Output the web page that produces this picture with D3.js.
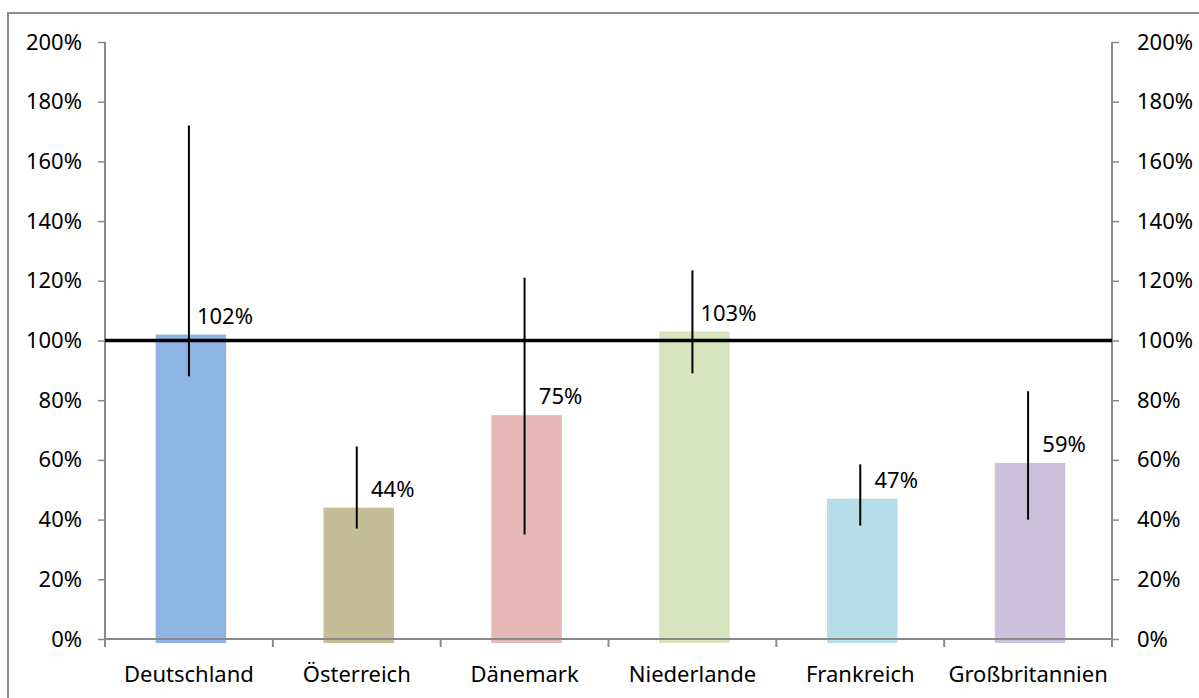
<!DOCTYPE html>
<html>
<head>
<meta charset="utf-8">
<script src="https://cdn.jsdelivr.net/npm/d3@7"></script>
<style>
  body { margin: 0; background: #fff; }
  text { font-family: "Noto Sans", sans-serif; fill: #000; }
</style>
</head>
<body>
<script>
// chart data
var categories = ["Deutschland", "Österreich", "Dänemark", "Niederlande", "Frankreich", "Großbritannien"];
var values = [1.02, 0.44, 0.75, 1.03, 0.47, 0.59];
var errHigh = [1.72, 0.645, 1.21, 1.235, 0.585, 0.83];
var errLow = [0.88, 0.37, 0.35, 0.89, 0.38, 0.40];
var colors = ["#8EB4E3", "#C4BD97", "#E6B9B8", "#D7E4BD", "#B7DEE8", "#CCC1DA"];
var tickValues = [0, 0.2, 0.4, 0.6, 0.8, 1.0, 1.2, 1.4, 1.6, 1.8, 2.0];
var refValue = 1.0;

var W = 1199, H = 698;
var margin = {top: 42, right: 87, bottom: 59, left: 105},
    width = W - margin.left - margin.right,
    height = H - margin.top - margin.bottom;

var svg = d3.select("body").append("svg")
    .attr("width", W)
    .attr("height", H);

// outer frame (runs off the right and bottom edge)
svg.append("rect")
    .attr("x", 8).attr("y", 13)
    .attr("width", W + 20).attr("height", H + 20)
    .attr("fill", "none")
    .attr("stroke", "#8c8c8c")
    .attr("stroke-width", 2);

var g = svg.append("g")
    .attr("transform", "translate(" + margin.left + "," + margin.top + ")");

var xb = d3.scaleBand().domain(categories).range([0, width]);
var x = d3.scaleBand().domain(categories).range([0, width]).paddingInner(0.58).paddingOuter(0.29);
var y = d3.scaleLinear().domain([0, 2]).range([height, 0]);
var fmt = d3.format(".0%");

// bars (Excel draws them a touch right of centre and slightly below the axis)
g.selectAll(".bar")
    .data(values)
  .enter().append("rect")
    .attr("class", "bar")
    .attr("x", function(d, i) { return x(categories[i]) + 2; })
    .attr("width", x.bandwidth())
    .attr("y", function(d) { return y(d); })
    .attr("height", function(d) { return y(0) - y(d) + 4; })
    .attr("fill", function(d, i) { return colors[i]; });

// axes
var axisColor = "#898989";
var yLeft = g.append("g")
    .call(d3.axisLeft(y).tickValues(tickValues).tickFormat(fmt).tickSize(7).tickPadding(16));
var yRight = g.append("g")
    .attr("transform", "translate(" + width + ",0)")
    .call(d3.axisRight(y).tickValues(tickValues).tickFormat(fmt).tickSize(7).tickPadding(18));
var xAxis = g.append("g")
    .attr("transform", "translate(0," + height + ")")
    .call(d3.axisBottom(xb).tickSize(0).tickPadding(27));

// x tick marks at category boundaries
g.selectAll(".xtick")
    .data(categories.concat([null]))
  .enter().append("line")
    .attr("class", "xtick")
    .attr("x1", function(d, i) { return i * xb.step(); })
    .attr("x2", function(d, i) { return i * xb.step(); })
    .attr("y1", height).attr("y2", height + 8)
    .attr("stroke", axisColor).attr("stroke-width", 2);

[yLeft, yRight, xAxis].forEach(function(a) {
  a.select(".domain").attr("stroke", axisColor).attr("stroke-width", 2);
  a.selectAll(".tick line").attr("stroke", axisColor).attr("stroke-width", 1.5);
  a.selectAll("text").attr("font-size", 22).attr("font-family", "Noto Sans, sans-serif").attr("fill", "#000");
});
yLeft.select(".domain").attr("d", "M0,0V" + height);
yRight.select(".domain").attr("d", "M0,0V" + height);
xAxis.select(".domain").attr("d", "M0,0H" + width);

// reference line at 100%
g.append("line")
    .attr("x1", 0).attr("x2", width)
    .attr("y1", y(refValue)).attr("y2", y(refValue))
    .attr("stroke", "#000").attr("stroke-width", 3.5);

// error bars
g.selectAll(".err")
    .data(values)
  .enter().append("line")
    .attr("class", "err")
    .attr("x1", function(d, i) { return xb(categories[i]) + xb.bandwidth() / 2; })
    .attr("x2", function(d, i) { return xb(categories[i]) + xb.bandwidth() / 2; })
    .attr("y1", function(d, i) { return y(errHigh[i]); })
    .attr("y2", function(d, i) { return y(errLow[i]); })
    .attr("stroke", "#000").attr("stroke-width", 2);

// value labels
g.selectAll(".lbl")
    .data(values)
  .enter().append("text")
    .attr("class", "lbl")
    .attr("x", function(d, i) { return xb(categories[i]) + xb.bandwidth() / 2 + 36; })
    .attr("y", function(d) { return y(d) - 11; })
    .attr("text-anchor", "middle")
    .attr("font-size", 22)
    .text(function(d) { return fmt(d); });
</script>
</body>
</html>
